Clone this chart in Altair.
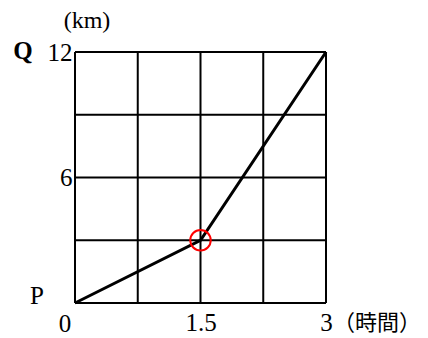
import altair as alt
import pandas as pd

# data
path_t = [0, 1.5, 3]
path_km = [0, 3, 12]
grid_x = [0, 0.75, 1.5, 2.25, 3]
grid_y = [0, 3, 6, 9, 12]
x_label_vals = [1.5, 3]
y_label_vals = [6, 12]
mark_t = [1.5]
mark_km = [3]

SERIF = "Liberation Serif"
CJK = "Liberation Serif, Noto Sans CJK JP"
FS = 25
W = 251

xs = alt.Scale(domain=[0, 3], nice=False, zero=False)
ys = alt.Scale(domain=[0, 12], nice=False, zero=False)

path_df = pd.DataFrame({"t": path_t, "km": path_km})
gx_df = pd.DataFrame({"t": grid_x})
gy_df = pd.DataFrame({"km": grid_y})
mk_df = pd.DataFrame({"t": mark_t, "km": mark_km})
origin = pd.DataFrame({"t": [0], "km": [0]})
top = pd.DataFrame({"t": [0], "km": [12]})
right = pd.DataFrame({"t": [3], "km": [0]})

vlines = alt.Chart(gx_df).mark_rule(color="black", strokeWidth=2).encode(
    x=alt.X("t:Q", scale=xs,
            axis=alt.Axis(values=x_label_vals, format="~g", title=None, domain=False, ticks=False,
                          grid=False, labelFont=SERIF, labelFontSize=FS, labelColor="black",
                          labelPadding=7, labelFlush=False)),
    y=alt.value(0), y2=alt.value(W))
hlines = alt.Chart(gy_df).mark_rule(color="black", strokeWidth=2).encode(
    y=alt.Y("km:Q", scale=ys,
            axis=alt.Axis(values=y_label_vals, format="~g", title=None, domain=False, ticks=False,
                          grid=False, labelFont=SERIF, labelFontSize=FS, labelColor="black",
                          labelPadding=3, labelFlush=False)),
    x=alt.value(0), x2=alt.value(W))

line = alt.Chart(path_df).mark_line(color="black", strokeWidth=3).encode(
    x=alt.X("t:Q", scale=xs), y=alt.Y("km:Q", scale=ys))

circ = alt.Chart(mk_df).mark_point(shape="circle", size=420, color="red", strokeWidth=2,
                                     filled=False, opacity=1).encode(
    x=alt.X("t:Q", scale=xs), y=alt.Y("km:Q", scale=ys))

def lbl(df, text, dx, dy, align="center", weight="normal", size=FS, font=SERIF):
    return alt.Chart(df).mark_text(text=text, dx=dx, dy=dy, align=align, baseline="middle",
                                   font=font, fontSize=size, fontWeight=weight, color="black").encode(
        x=alt.X("t:Q", scale=xs), y=alt.Y("km:Q", scale=ys))

labels = [
    lbl(origin, "0", -10, 21),
    lbl(origin, "P", -38, -7),
    lbl(top, "Q", -52, -1, weight="bold"),
    lbl(top, "(km)", 12, -31, size=24),
    lbl(right, "（時間）", 7, 20, align="left", size=22, font=CJK),
]

chart = alt.layer(vlines, hlines, line, circ, *labels).properties(
    width=W, height=W,
    autosize=alt.AutoSizeParams(type="none"),
    padding={"left": 67, "top": 44, "right": 94, "bottom": 35},
).configure_view(stroke=None)

chart.save("out.html", embed_options={"renderer": "svg", "actions": False})
